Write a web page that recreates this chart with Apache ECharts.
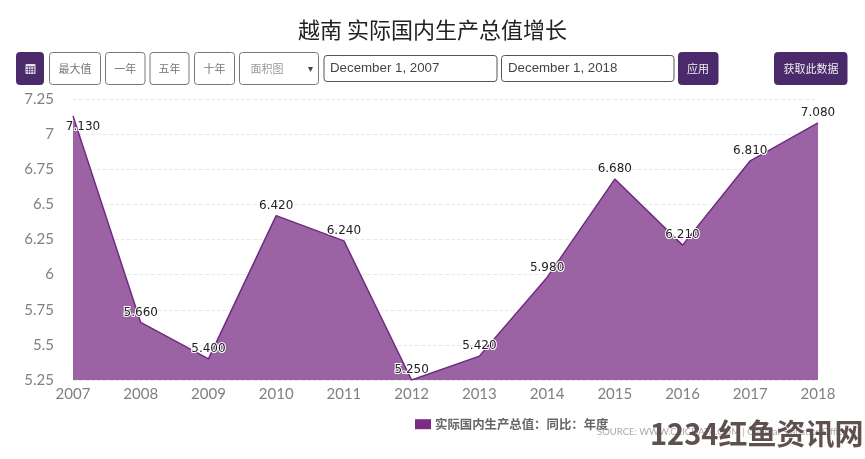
<!DOCTYPE html>
<html><head><meta charset="utf-8">
<style>html,body{margin:0;padding:0;background:#fff}#c{width:865px;height:459px}</style>
<script src="https://cdn.jsdelivr.net/npm/echarts@6/dist/echarts.min.js"></script>
</head><body><div id="c"></div>
<script>
const years = ['2007','2008','2009','2010','2011','2012','2013','2014','2015','2016','2017','2018'];
const growth = [7.13,5.66,5.40,6.42,6.24,5.25,5.42,5.98,6.68,6.21,6.81,7.08];
const seriesName = '实际国内生产总值:同比:年度'.replace(/:/g,'\uFF1A');
const titleText = '越南 实际国内生产总值增长';
const startDate = 'December 1, 2007';
const endDate = 'December 1, 2018';
const CJK = '"Noto Sans CJK SC","Noto Sans",sans-serif';
const PURPLE = '#4b2a6b';

function box(x,y,w,h,fill,stroke){
  return {type:'rect',shape:{x,y,width:w,height:h,r:3},style:{fill,stroke,lineWidth:1}};
}
function txt(x,y,text,fill,size,font,align){
  return {type:'text',x,y,style:{text,fill,font:size+'px '+(font||CJK),align:align||'center',verticalAlign:'middle'},z:10};
}
const g = [];
g.push(box(16.5,52.5,27,32,PURPLE,PURPLE));
// calendar icon
g.push({type:'rect',shape:{x:25.5,y:64,width:10,height:10,r:1},style:{fill:'#e8e0ee'},z:10});
[66.5,69,71.5].forEach(y=>g.push({type:'rect',shape:{x:26,y,width:9,height:0.7},style:{fill:PURPLE},z:11}));
[28,30.5,33].forEach(x=>g.push({type:'rect',shape:{x,y:66.5,width:0.7,height:7},style:{fill:PURPLE},z:11}));
[['最大值',49.5,51],['一年',105.5,39.5],['五年',150,39],['十年',194.5,40]].forEach(b=>{
  g.push(box(b[1],52.5,b[2],32,'#fff','#7b7480'));
  g.push(txt(b[1]+b[2]/2,68.5,b[0],'#777',11));
});
g.push(box(239.5,52.5,79,32,'#fff','#7b7480'));
g.push(txt(267,68.5,'面积图','#999',11));
g.push(txt(310,68.5,'▾','#444',10));
g.push(box(324,55.5,173,26,'#fff','#555'));
g.push(txt(330,68.5,startDate,'#444',13.3,'"Liberation Sans",sans-serif','left'));
g.push(box(501.5,55.5,172.5,26,'#fff','#555'));
g.push(txt(508,68.5,endDate,'#444',13.3,'"Liberation Sans",sans-serif','left'));
g.push(box(678.5,52.5,39.5,32,PURPLE,PURPLE));
g.push(txt(698,68.5,'应用','#eee',11));
g.push(box(774.5,52.5,72.5,32,PURPLE,PURPLE));
g.push(txt(811,68.5,'获取此数据','#eee',11));
// source and watermark
g.push(txt(597,432,'SOURCE: WWW.CEICDATA.COM | General Statistics Office','#aaa',9.5,'Lato,sans-serif','left'));
g.push({type:'text',x:650,y:434,style:{text:'1234红鱼资讯网',fill:'#5f5050',font:'bold 29px '+CJK,align:'left',verticalAlign:'middle'},z:20});

const chart = echarts.init(document.getElementById('c'),null,{renderer:'canvas'});
chart.setOption({
  animation:false,
  backgroundColor:'#fff',
  title:{text:titleText,left:'center',top:19,padding:0,textStyle:{fontFamily:CJK,fontSize:22,fontWeight:'normal',color:'#222'}},
  legend:{left:415,top:418,padding:0,itemWidth:16,itemHeight:10,itemGap:3,icon:'rect',
    textStyle:{fontFamily:CJK,fontSize:12.4,fontWeight:'bold',color:'#666',padding:[0,0,0,-1]}},
  grid:{left:73,right:47,top:99,bottom:79},
  xAxis:{type:'category',data:years,boundaryGap:false,
    axisLine:{show:false},axisTick:{show:false},
    axisLabel:{margin:7,fontFamily:'Lato,sans-serif',fontSize:15,color:'#808080'}},
  yAxis:{type:'value',min:5.25,max:7.25,interval:0.25,
    axisLine:{show:false},axisTick:{show:false},
    axisLabel:{margin:19,fontFamily:'Lato,sans-serif',fontSize:15,color:'#808080'},
    splitLine:{lineStyle:{color:'#e9e9e9',type:'dashed',width:1}}},
  series:[{type:'line',name:seriesName,
    data:growth.map((v,i)=>i===0?{value:v,label:{position:'bottom',offset:[10,0],distance:5}}:v),
    symbol:'circle',symbolSize:0.01,showSymbol:true,showAllSymbol:true,z:5,
    lineStyle:{color:'#6e2c80',width:1.5},
    itemStyle:{color:'#7b2d84'},
    areaStyle:{color:'#9b62a4',opacity:1},
    label:{show:true,position:'top',distance:4,formatter:p=>p.value.toFixed(3),
      fontFamily:'"DejaVu Sans",sans-serif',fontSize:12,color:'#222',
      textBorderColor:'#fff',textBorderWidth:2}
  }],
  graphic:{elements:g}
});
</script></body></html>
